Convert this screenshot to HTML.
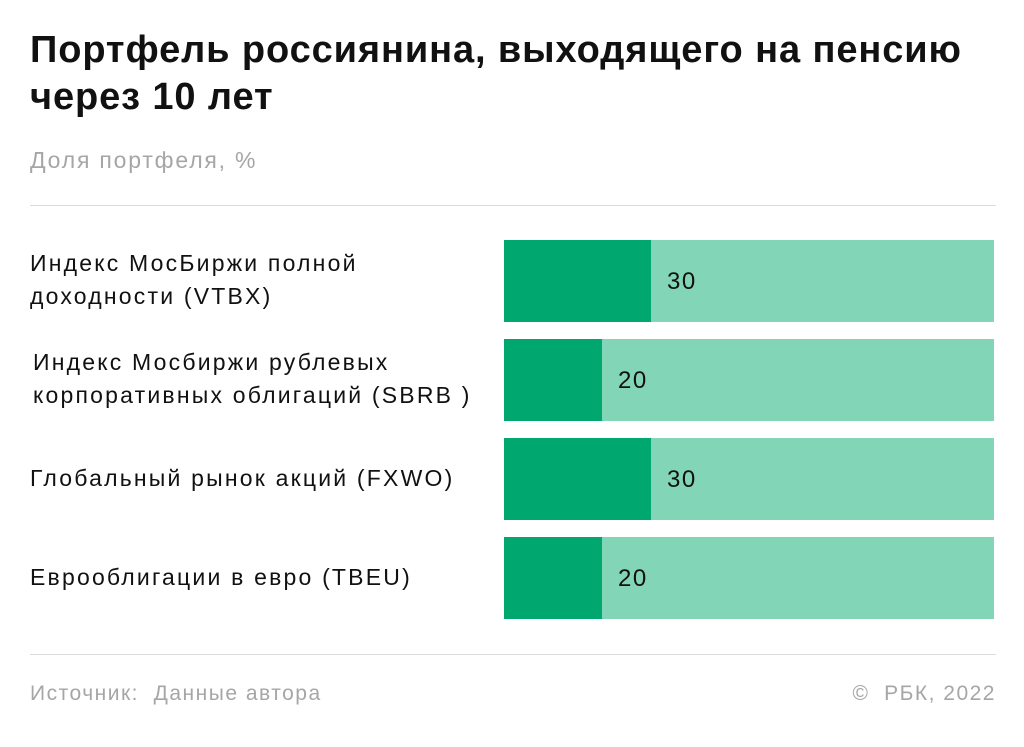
<!DOCTYPE html>
<html><head><meta charset="utf-8"><style>
body{margin:0;background:#fff;width:1024px;height:747px;overflow:hidden;font-family:"Liberation Sans",sans-serif;position:relative}
.t{position:absolute;left:30px;top:27px;font-size:38px;font-weight:bold;line-height:47px;color:#111;letter-spacing:0.9px}
.s{position:absolute;left:30px;top:147px;font-size:23px;color:#a6a6a6;letter-spacing:1.8px}
.hr{position:absolute;left:30px;width:966px;height:1px;background:#dcdcdc}
.lab{position:absolute;left:30px;font-size:23px;line-height:33px;color:#111;letter-spacing:2.2px;white-space:nowrap}
.f{position:absolute;top:682px;font-size:21px;color:#a6a6a6;letter-spacing:1.5px}
</style></head><body>
<div class="t">Портфель россиянина, выходящего на пенсию<br>через 10 лет</div>
<div class="s">Доля портфеля, %</div>
<div class="hr" style="top:205px"></div>
<div class="hr" style="top:654px"></div>
<svg id="c" width="1024" height="747" style="position:absolute;left:0;top:0"></svg>
<div class="f" style="left:30px">Источник:&nbsp; Данные автора</div>
<div class="f" style="right:28px">©&nbsp; РБК, 2022</div>
<script>
const categories=[["Индекс МосБиржи полной","доходности (VTBX)"],["Индекс Мосбиржи рублевых","корпоративных облигаций (SBRB )"],["Глобальный рынок акций (FXWO)"],["Еврооблигации в евро (TBEU)"]];
const values=[30,20,30,20];
const maxValue=100;
const svg=document.getElementById('c');
const NS='http://www.w3.org/2000/svg';
const x0=504,W=490,y0=240,step=99,h=82;
const xs=v=>v/maxValue*W;
values.forEach((v,i)=>{
 const y=y0+i*step;
 const bg=document.createElementNS(NS,'rect');
 bg.setAttribute('x',x0);bg.setAttribute('y',y);bg.setAttribute('width',W);bg.setAttribute('height',h);bg.setAttribute('fill','#82d5b7');
 
 
 svg.appendChild(bg);
 const r=document.createElementNS(NS,'rect');
 r.setAttribute('x',x0);r.setAttribute('y',y);r.setAttribute('width',xs(v));r.setAttribute('height',h);r.setAttribute('fill','#00a870');
 
 
 svg.appendChild(r);
 const t=document.createElementNS(NS,'text');
 t.setAttribute('x',x0+xs(v)+16);t.setAttribute('y',y+h/2+8);t.setAttribute('font-size','24');t.setAttribute('letter-spacing','1.5');t.setAttribute('fill','#111');t.setAttribute('font-family','Liberation Sans, sans-serif');
 t.textContent=v;
 
 
 svg.appendChild(t);
 const lines=categories[i];
 const d=document.createElement('div');
 d.className='lab';
 d.style.top=(y+h/2-lines.length*33/2-1)+'px';
 if(i==1)d.style.left='33px';
 d.innerHTML=lines.join('<br>');
 
 
 document.body.appendChild(d);
});
</script>
</body></html>
